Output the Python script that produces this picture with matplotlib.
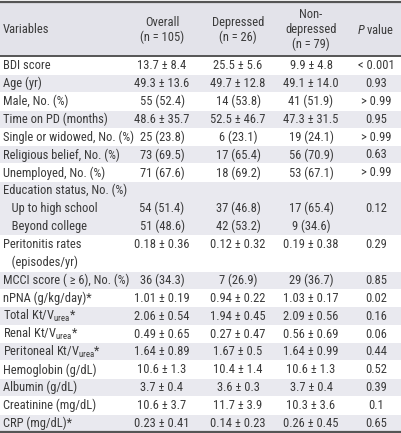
import matplotlib
matplotlib.use("Agg")
import matplotlib.pyplot as plt
from matplotlib.patches import Rectangle
from matplotlib import font_manager as fm

# pick a condensed font if available
candidates = ['Liberation Sans Narrow', 'Roboto Condensed', 'DejaVu Sans Condensed']
chosen = None
for c in candidates:
    try:
        fm.findfont(fm.FontProperties(family=c), fallback_to_default=False)
        chosen = c
        break
    except Exception:
        pass
size_map = {'Liberation Sans Narrow': 9.2, 'Roboto Condensed': 9.0, 'DejaVu Sans Condensed': 7.6}
if chosen is None:
    chosen = 'Liberation Sans'
fs = size_map.get(chosen, 7.6)

plt.rcParams['font.family'] = [chosen, 'DejaVu Sans']
plt.rcParams['mathtext.fontset'] = 'custom'
plt.rcParams['mathtext.rm'] = chosen
plt.rcParams['mathtext.it'] = chosen + ':italic'

# ---- data ----
headers = ["Variables", "Overall\n(n = 105)", "Depressed\n(n = 26)", "Non-\ndepressed\n(n = 79)", "$\\it{P}$ value"]

variables = [
    [("BDI score", "13.7 ± 8.4", "25.5 ± 5.6", "9.9 ± 4.8", "< 0.001")],
    [("Age (yr)", "49.3 ± 13.6", "49.7 ± 12.8", "49.1 ± 14.0", "0.93")],
    [("Male, No. (%)", "55 (52.4)", "14 (53.8)", "41 (51.9)", "> 0.99")],
    [("Time on PD (months)", "48.6 ± 35.7", "52.5 ± 46.7", "47.3 ± 31.5", "0.95")],
    [("Single or widowed, No. (%)", "25 (23.8)", "6 (23.1)", "19 (24.1)", "> 0.99")],
    [("Religious belief, No. (%)", "73 (69.5)", "17 (65.4)", "56 (70.9)", "0.63")],
    [("Unemployed, No. (%)", "71 (67.6)", "18 (69.2)", "53 (67.1)", "> 0.99")],
    [("Education status, No. (%)", "", "", "", ""),
     ("   Up to high school", "54 (51.4)", "37 (46.8)", "17 (65.4)", "0.12"),
     ("   Beyond college", "51 (48.6)", "42 (53.2)", "9 (34.6)", "")],
    [("Peritonitis rates", "0.18 ± 0.36", "0.12 ± 0.32", "0.19 ± 0.38", "0.29"),
     ("   (episodes/yr)", "", "", "", "")],
    [("MCCI score ( ≥ 6), No. (%)", "36 (34.3)", "7 (26.9)", "29 (36.7)", "0.85")],
    [("nPNA (g/kg/day)*", "1.01 ± 0.19", "0.94 ± 0.22", "1.03 ± 0.17", "0.02")],
    [("Total Kt/V$_{\\mathrm{urea}}$*", "2.06 ± 0.54", "1.94 ± 0.45", "2.09 ± 0.56", "0.16")],
    [("Renal Kt/V$_{\\mathrm{urea}}$*", "0.49 ± 0.65", "0.27 ± 0.47", "0.56 ± 0.69", "0.06")],
    [("Peritoneal Kt/V$_{\\mathrm{urea}}$*", "1.64 ± 0.89", "1.67 ± 0.5", "1.64 ± 0.99", "0.44")],
    [("Hemoglobin (g/dL)", "10.6 ± 1.3", "10.4 ± 1.4", "10.6 ± 1.3", "0.52")],
    [("Albumin (g/dL)", "3.7 ± 0.4", "3.6 ± 0.3", "3.7 ± 0.4", "0.39")],
    [("Creatinine (mg/dL)", "10.6 ± 3.7", "11.7 ± 3.9", "10.3 ± 3.6", "0.1")],
    [("CRP (mg/dL)*", "0.23 ± 0.41", "0.14 ± 0.23", "0.26 ± 0.45", "0.65")],
]

# ---- layout ----
W, H = 401, 433
fig = plt.figure(figsize=(W / 100, H / 100), dpi=100)
ax = fig.add_axes([0, 0, 1, 1])
ax.set_xlim(0, W)
ax.set_ylim(H, 0)
ax.axis('off')

txt_color = '#3a3a3a'
row_gray = '#e9e9ef'
head_gray = '#e3e3ea'
line_col = '#555555'

col_x = [3, 162, 238, 311, 376]

head_top, head_bot = 1.5, 56
ax.add_patch(Rectangle((0, head_top), W, head_bot - head_top, color=head_gray, lw=0))
ax.plot([0, W], [head_top, head_top], color=line_col, lw=1.6)
ax.plot([0, W], [head_bot, head_bot], color=line_col, lw=1.4)

head_y = (head_top + head_bot) / 2 + 1
for i, h in enumerate(headers):
    ha = 'left' if i == 0 else 'center'
    ax.text(col_x[i], head_y, h, ha=ha, va='center', fontsize=fs, color=txt_color,
            linespacing=1.2, multialignment='center')

pitch = (432 - head_bot) / sum(len(v) for v in variables)
y = head_bot
for gi, var in enumerate(variables):
    h = pitch * len(var)
    if gi % 2 == 1:
        ax.add_patch(Rectangle((0, y + 0.8), W, h - 0.8, color=row_gray, lw=0))
    for li, line in enumerate(var):
        cy = y + pitch * (li + 0.5) + 0.5
        for ci, val in enumerate(line):
            if not val:
                continue
            ha = 'left' if ci == 0 else 'center'
            ax.text(col_x[ci], cy, val, ha=ha, va='center', fontsize=fs, color=txt_color)
    y += h

ax.plot([0, W], [432, 432], color=line_col, lw=1.6)

fig.savefig('out.png', dpi=100)
